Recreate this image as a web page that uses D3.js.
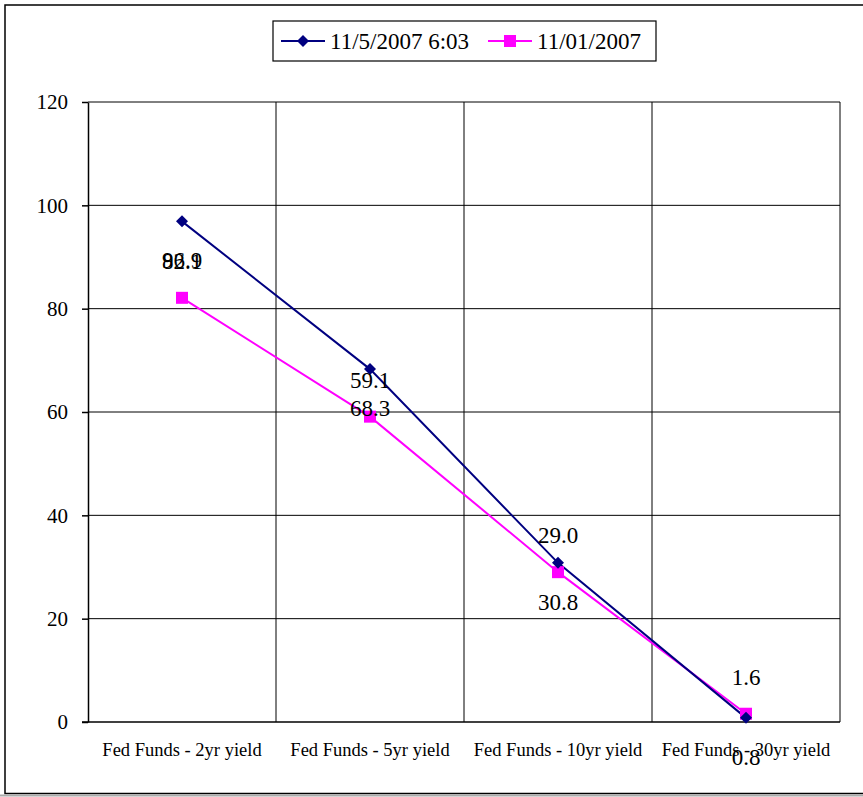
<!DOCTYPE html>
<html><head><meta charset="utf-8">
<script src="https://cdn.jsdelivr.net/npm/d3@7/dist/d3.min.js"></script>
<style>body{margin:0;background:#fff}svg{display:block}</style>
</head><body>
<script>
const categories = ["Fed Funds - 2yr yield","Fed Funds - 5yr yield","Fed Funds - 10yr yield","Fed Funds - 30yr yield"];
const seriesNames = ["11/5/2007 6:03","11/01/2007"];
const seriesA = [96.9, 68.3, 30.8, 0.8];
const seriesB = [82.1, 59.1, 29.0, 1.6];
const yTicks = [0,20,40,60,80,100,120];

const W=863,H=797;
const svg=d3.select("body").append("svg").attr("width",W).attr("height",H);
const serif="Liberation Serif, DejaVu Serif, serif";
svg.append("rect").attr("x",5).attr("y",5).attr("width",W+10).attr("height",H-8.5)
  .attr("fill","none").attr("stroke","#000").attr("stroke-width",1.5);
svg.append("line").attr("x1",0).attr("x2",W).attr("y1",795.5).attr("y2",795.5).attr("stroke","#aaa").attr("stroke-width",2);

const L=88,R=840,T=102,B=722;
const x=d3.scaleBand().domain(categories).range([L,R]);
const y=d3.scaleLinear().domain([0,120]).range([B,T]);

const g=svg.append("g");
g.selectAll(".hg").data(yTicks.filter(d=>d>0)).enter().append("line")
  .attr("x1",L).attr("x2",R).attr("y1",d=>y(d)).attr("y2",d=>y(d)).attr("stroke","#000").attr("stroke-width",1);
const vx=categories.slice(1).map(c=>x(c)).concat([R]);
g.selectAll(".vg").data(vx).enter().append("line")
  .attr("x1",d=>d).attr("x2",d=>d).attr("y1",T).attr("y2",B).attr("stroke","#000").attr("stroke-width",1);

const ya=svg.append("g").attr("transform",`translate(${L},0)`)
  .call(d3.axisLeft(y).tickValues(yTicks).tickSize(6).tickSizeOuter(0).tickPadding(14));
ya.select(".domain").attr("stroke","#000").attr("stroke-width",1.5);
ya.selectAll(".tick line").attr("stroke","#000").attr("stroke-width",1.5);
ya.selectAll("text").attr("font-family",serif).attr("font-size",21).attr("fill","#000");
const xa=svg.append("g").attr("transform",`translate(0,${B})`)
  .call(d3.axisBottom(x).tickSize(0).tickPadding(21));
xa.select(".domain").attr("stroke","#000").attr("stroke-width",1.5).attr("d",`M${L-6},0H${R}`);
xa.selectAll("text").attr("font-family",serif).attr("font-size",18.5).attr("fill","#000");

const cx=d=>x(d)+x.bandwidth()/2;
const line=d3.line().x((d,i)=>cx(categories[i])).y(d=>y(d));
const diamond="M0,-6L6,0L0,6L-6,0Z";
svg.append("path").datum(seriesB).attr("d",line).attr("fill","none").attr("stroke","#ff00ff").attr("stroke-width",2);
svg.append("path").datum(seriesA).attr("d",line).attr("fill","none").attr("stroke","#000080").attr("stroke-width",2);
svg.selectAll(".mb").data(seriesB).enter().append("rect")
  .attr("x",(d,i)=>cx(categories[i])-6).attr("y",d=>y(d)-6).attr("width",12).attr("height",12).attr("fill","#ff00ff");
svg.selectAll(".ma").data(seriesA).enter().append("path")
  .attr("d",diamond)
  .attr("transform",(d,i)=>`translate(${cx(categories[i])},${y(d)})`).attr("fill","#000080");

svg.selectAll(".la").data(seriesA).enter().append("text")
  .attr("x",(d,i)=>cx(categories[i])).attr("y",d=>y(d)+47).attr("text-anchor","middle")
  .attr("font-family",serif).attr("font-size",23).text(d=>d.toFixed(1));
svg.selectAll(".lb").data(seriesB).enter().append("text")
  .attr("x",(d,i)=>cx(categories[i])).attr("y",d=>y(d)-29).attr("text-anchor","middle")
  .attr("font-family",serif).attr("font-size",23).text(d=>d.toFixed(1));

const lg=svg.append("g");
lg.append("rect").attr("x",273).attr("y",21).attr("width",383).attr("height",40).attr("fill","#fff").attr("stroke","#000").attr("stroke-width",1.2);
lg.append("line").attr("x1",281).attr("x2",325).attr("y1",41).attr("y2",41).attr("stroke","#000080").attr("stroke-width",2);
lg.append("path").attr("d",diamond).attr("transform","translate(303,41)").attr("fill","#000080");
lg.append("text").attr("x",330).attr("y",49).attr("font-family",serif).attr("font-size",23).text(seriesNames[0]);
lg.append("line").attr("x1",488).attr("x2",532).attr("y1",41).attr("y2",41).attr("stroke","#ff00ff").attr("stroke-width",2);
lg.append("rect").attr("x",504).attr("y",35).attr("width",12).attr("height",12).attr("fill","#ff00ff");
lg.append("text").attr("x",537).attr("y",49).attr("font-family",serif).attr("font-size",23).text(seriesNames[1]);
</script>
</body></html>
